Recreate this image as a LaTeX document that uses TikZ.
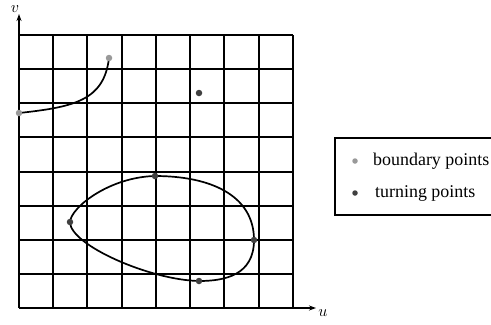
\documentclass[tikz,border=0pt]{standalone}
\usepackage{fontspec}
\setmainfont{Liberation Serif}
\usetikzlibrary{arrows.meta}
\begin{document}
\begin{tikzpicture}[x=1bp,y=-1bp,
  gridline/.style={line width=2bp,black},
  curveline/.style={line width=1.7bp,black},
  bpt/.style={circle,fill=black!40,inner sep=0pt,minimum size=6.5bp},
  tpt/.style={circle,fill=black!75,inner sep=0pt,minimum size=6.5bp},
  axislabel/.style={inner sep=0pt},
  legtext/.style={font=\fontsize{18}{20}\selectfont,anchor=west,inner sep=0pt}]
\useasboundingbox (0,0) rectangle (491,324);
% grid
\foreach \gx in {19,53,87,122,156,190,224,259,293}{
  \draw[gridline] (\gx,35) -- (\gx,308);
}
\foreach \gy in {35,69,103,137,172,206,240,274,308}{
  \draw[gridline] (19,\gy) -- (293,\gy);
}
% axes
\coordinate (o) at (19,308);
\coordinate (vtip) at (19,14);
\coordinate (utip) at (316,308);
\draw[gridline,-{Stealth[length=7bp,width=5bp]}] (o) -- (vtip);
\draw[gridline,-{Stealth[length=7bp,width=5bp]}] (o) -- (utip);
\node[axislabel] (vlab) at (15,9) {\scalebox{1.6}{$v$}};
\node[axislabel] (ulab) at (323,313) {\scalebox{1.6}{$u$}};
% points
\coordinate (b1) at (19,113);
\coordinate (b2) at (109,58);
\coordinate (t0) at (199,93);
\coordinate (tt) at (155,176);
\coordinate (tl) at (70,222);
\coordinate (tr) at (254,240);
\coordinate (tb) at (199,281);
% open curve
\draw[curveline] (b1) .. controls (75,107) and (104,100) .. (b2);
% closed curve
\draw[curveline] (tt) .. controls (210,176) and (254,195) .. (tr)
  .. controls (254,275) and (225,281) .. (tb)
  .. controls (150,280) and (70,245) .. (tl)
  .. controls (71,207) and (110,177) .. (tt);
\node[bpt] (nb1) at (b1) {};
\node[bpt] (nb2) at (b2) {};
\node[tpt] (nt0) at (t0) {};
\node[tpt] (ntt) at (tt) {};
\node[tpt] (ntl) at (tl) {};
\node[tpt] (ntr) at (tr) {};
\node[tpt] (ntb) at (tb) {};
% legend
\draw[line width=1.2bp] (335,138) rectangle (530,215);
\node[bpt,minimum size=5.5bp] (lb) at (355,161) {};
\node[tpt,minimum size=5.5bp] (lt) at (355,193) {};
\node[legtext] (lbt) at (373,161) {boundary points};
\node[legtext] (ltt) at (375,193) {turning points};
\end{tikzpicture}
\end{document}
